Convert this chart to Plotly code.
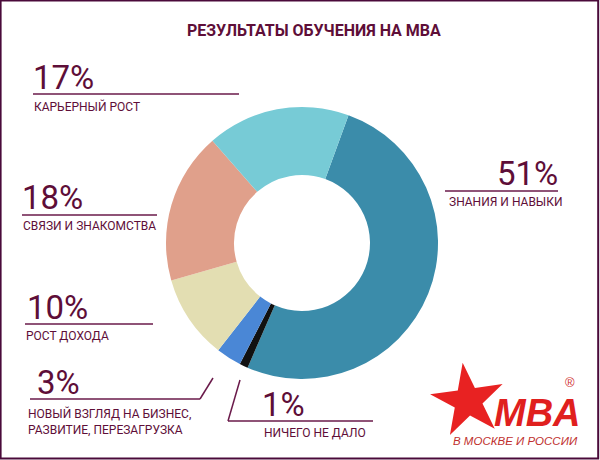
import plotly.graph_objects as go

# ---- data ----
categories = ["ЗНАНИЯ И НАВЫКИ", "НИЧЕГО НЕ ДАЛО",
              "НОВЫЙ ВЗГЛЯД НА БИЗНЕС,<br>РАЗВИТИЕ, ПЕРЕЗАГРУЗКА",
              "РОСТ ДОХОДА", "СВЯЗИ И ЗНАКОМСТВА", "КАРЬЕРНЫЙ РОСТ"]
values = [51, 1, 3, 10, 18, 17]
colors = ["#3B8CAA", "#111111", "#4A87D6", "#E3DEB2", "#E0A08B", "#77CBD6"]
title = "РЕЗУЛЬТАТЫ ОБУЧЕНИЯ НА МВА"

W, H = 600, 460
TXT = "#5E0E38"
LINE = "#6A1A4A"
COND = "Liberation Sans Narrow, Roboto, sans-serif"

fig = go.Figure()
fig.add_trace(go.Pie(
    labels=categories, values=values, hole=0.5, sort=False,
    direction="clockwise", rotation=20, textinfo="none",
    marker=dict(colors=colors, line=dict(width=0)),
    showlegend=False, hoverinfo="label+percent",
    domain=dict(x=[166 / W, 438 / W], y=[1 - 379 / H, 1 - 107 / H]),
))

# label layout: (pct x, pct center y, pct anchor, line x0, line x1, line y, label x, label y, label anchor)
layout_pos = {
    "КАРЬЕРНЫЙ РОСТ": (31, 77, "left", 33, 239, 94, 32, 106, "left"),
    "СВЯЗИ И ЗНАКОМСТВА": (20, 197, "left", 22, 157, 215, 21, 226, "left"),
    "РОСТ ДОХОДА": (25, 307, "left", 25, 153, 324, 24, 336, "left"),
    "НОВЫЙ ВЗГЛЯД НА БИЗНЕС,<br>РАЗВИТИЕ, ПЕРЕЗАГРУЗКА": (35, 382, "left", 30, 200, 399, 26, 421, "left"),
    "НИЧЕГО НЕ ДАЛО": (260, 404, "left", 228, 373, 421, 262, 433, "left"),
    "ЗНАНИЯ И НАВЫКИ": (560, 173, "right", 445, 558, 191, 565, 202, "right"),
}

annotations = []
shapes = []
for cat, val in zip(categories, values):
    px, py, panc, lx0, lx1, ly, tx, ty, anc = layout_pos[cat]
    annotations.append(dict(x=px, y=py, xref="x", yref="y", text=f"{val}%",
                            showarrow=False, xanchor=panc, yanchor="middle",
                            font=dict(family=COND, size=33, color=TXT)))
    annotations.append(dict(x=tx, y=ty, xref="x", yref="y", text=cat,
                            showarrow=False, xanchor=anc, yanchor="middle",
                            align="left",
                            font=dict(family=COND, size=12, color=TXT)))
    shapes.append(dict(type="line", xref="x", yref="y", x0=lx0, x1=lx1, y0=ly, y1=ly,
                       line=dict(color=LINE, width=1.5)))

# leader diagonals
shapes.append(dict(type="line", xref="x", yref="y", x0=200, y0=399, x1=213, y1=378,
                   line=dict(color=LINE, width=1.5)))
shapes.append(dict(type="line", xref="x", yref="y", x0=228, y0=421, x1=240, y1=380,
                   line=dict(color=LINE, width=1.5)))

# frame
shapes.append(dict(type="rect", xref="paper", yref="paper", x0=0.001, y0=0.003,
                   x1=0.997, y1=0.999, line=dict(color="#4A0A3A", width=2)))

# title
annotations.append(dict(x=314, y=30, xref="x", yref="y", text=f"<b>{title}</b>",
                        showarrow=False, xanchor="center", yanchor="middle",
                        font=dict(family=COND, size=16, color=TXT)))

# logo
fig.add_trace(go.Scatter(x=[468], y=[401], mode="markers", hoverinfo="skip",
                         showlegend=False,
                         marker=dict(symbol="star", size=55, color="#E82222", angle=-8,
                                     line=dict(width=0))))
annotations.append(dict(x=537, y=413, xref="x", yref="y", text="<b><i>MBA</i></b>",
                        showarrow=False, xanchor="center", yanchor="middle",
                        font=dict(family="Liberation Sans, Arial", size=38, color="#E0201E")))
annotations.append(dict(x=515, y=441, xref="x", yref="y", text="<i>В МОСКВЕ И РОССИИ</i>",
                        showarrow=False, xanchor="center", yanchor="middle",
                        font=dict(family="Liberation Sans, Arial", size=11.5, color="#C0302E")))
annotations.append(dict(x=570, y=382, xref="x", yref="y", text="®",
                        showarrow=False, xanchor="center", yanchor="middle",
                        font=dict(family="Liberation Sans, Arial", size=13, color="#D03030")))

fig.update_layout(
    width=W, height=H, margin=dict(l=0, r=0, t=0, b=0),
    paper_bgcolor="white", plot_bgcolor="rgba(0,0,0,0)",
    xaxis=dict(range=[0, W], visible=False, domain=[0, 1], fixedrange=True),
    yaxis=dict(range=[H, 0], visible=False, domain=[0, 1], fixedrange=True),
    annotations=annotations, shapes=shapes,
)

fig.write_html("out.html")
